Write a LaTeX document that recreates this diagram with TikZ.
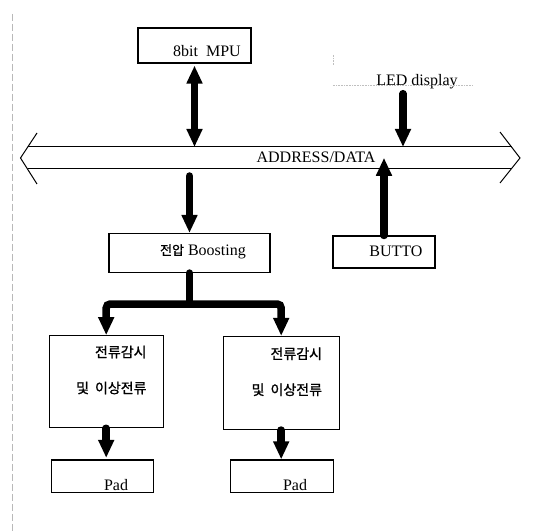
\documentclass[tikz,border=0pt]{standalone}
\usepackage{fontspec}
\setmainfont{Liberation Serif}
\newfontfamily\kr[FakeBold=1.2]{Noto Sans CJK KR}
\usetikzlibrary{arrows.meta}

\begin{document}
\begin{tikzpicture}[x=1pt, y=-1pt,
    blk/.style={draw, rectangle, line width=1.1pt, inner sep=0pt},
    txt/.style={font=\fontsize{16pt}{18pt}\selectfont, inner sep=0pt, anchor=base},
    krtxt/.style={font=\kr\fontsize{14pt}{16pt}\selectfont, inner sep=0pt, anchor=base east},
    fat/.style={line width=7.5pt, line cap=round, -{Triangle[length=18pt,width=15pt]}},
    fatboth/.style={line width=7.5pt, {Triangle[length=18pt,width=15pt]}-{Triangle[length=18pt,width=15pt]}}]
            \useasboundingbox (0,0) rectangle (536,532);
            \draw[gray!55, line width=0.7pt, dash pattern=on 7pt off 3pt] (12,14) -- (12,532);

            \node[blk, minimum width=113pt, minimum height=35pt] (mpu) at (194.5,45.5) {};
            \node[txt] (mpulbl) at (207,57) {8bit\ \ MPU};

            \node[minimum width=140pt, minimum height=30pt, inner sep=0pt] (led) at (403,70) {};
            \node[txt] (ledlbl) at (417,86) {LED display};
            \draw[gray!50, densely dotted, line width=0.6pt] (led.south west) -- (led.south east);
            \draw[gray!50, densely dotted, line width=0.6pt] (led.north west) -- ++(0,10);

            \node[txt] (bus) at (316,163) {ADDRESS/DATA};
            \coordinate (bustop) at (270,147);
            \coordinate (busbot) at (270,169);
            \draw[line width=1pt] (37,133) -- (20.5,158) -- (37,184);
            \draw[line width=1pt] (500,132) -- (520,158) -- (500,183);
            \draw[line width=1pt] (27.8,147) -- (511.5,147);
            \draw[line width=1pt] (27.5,169) -- (511.2,169);

            \node[blk, minimum width=161pt, minimum height=39pt] (boost) at (189.5,253) {};
            \node[txt] (boostlbl) at (203,255) {{\kr\fontsize{13pt}{15pt}\selectfont 전압} Boosting};

            \node[blk, minimum width=102pt, minimum height=32pt] (btn) at (384,252) {};
            \node[txt] (btnlbl) at (396,257) {BUTTO};

            \node[blk, minimum width=114pt, minimum height=92pt] (mon1) at (106.2,381.7) {};
            \node[krtxt] (mon1a) at ([shift={(-17,-24.5)}]mon1.east) {전류감시};
            \node[krtxt] (mon1b) at ([shift={(-17,11.5)}]mon1.east) {및\hspace{6pt}이상전류};

            \node[blk, minimum width=116pt, minimum height=93pt] (mon2) at (281.2,383) {};
            \node[krtxt] (mon2a) at ([shift={(-17.5,-24)}]mon2.east) {전류감시};
            \node[krtxt] (mon2b) at ([shift={(-17.5,12)}]mon2.east) {및\hspace{6pt}이상전류};

            \node[blk, minimum width=101.6pt, minimum height=32.7pt] (pad1) at (102.5,476.3) {};
            \node[txt] (pad1lbl) at (116,490) {Pad};
            \node[blk, minimum width=102.6pt, minimum height=32.7pt] (pad2) at (282,476.3) {};
            \node[txt] (pad2lbl) at (295,490) {Pad};

            \coordinate (split) at (boost.south |- 0,304);

            \draw[fatboth, shorten <=2pt] (mpu.south) -- (mpu.south |- bustop);
            \draw[fat, shorten <=8.5pt] (led.south) -- (led.south |- bustop);
            \draw[fat, shorten <=7pt] (busbot -| boost.north) -- (boost.north);
            \draw[fat] (btn.north) -- (btn.north |- bus.center);
            \draw[line width=7.5pt, line cap=round] (boost.south) -- (split);
            \draw[fatboth, rounded corners=4pt] (mon1.north) |- (split) -| (mon2.north);
            \draw[fat, shorten >=1.5pt] (mon1.south) -- (mon1.south |- pad1.north);
            \draw[fat] (mon2.south) -- (mon2.south |- pad2.north);
        \end{tikzpicture}
\end{document}
